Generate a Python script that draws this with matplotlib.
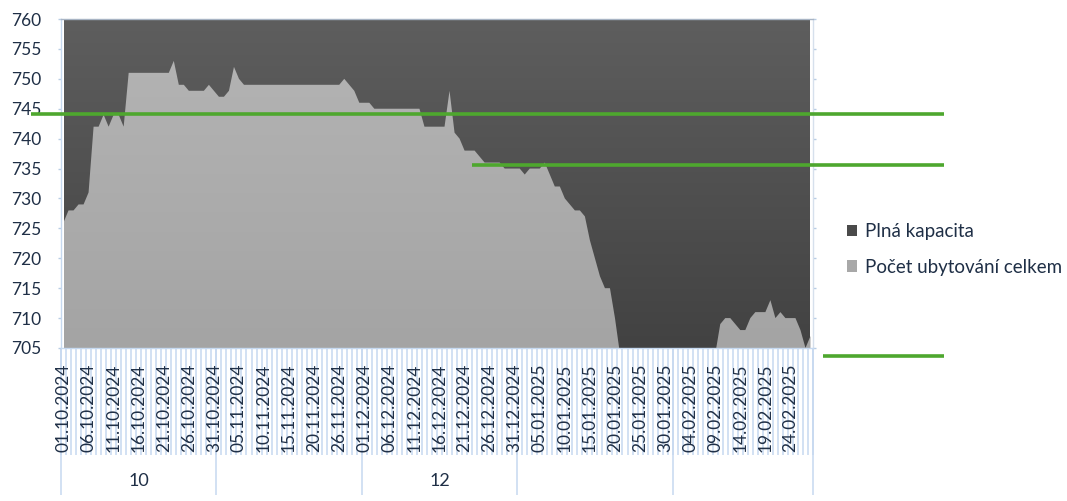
import numpy as np
import pandas as pd
import matplotlib
matplotlib.use('Agg')
import matplotlib.pyplot as plt
from matplotlib.colors import LinearSegmentedColormap
from matplotlib.patches import Patch
import matplotlib.transforms as mtransforms

plt.rcParams['font.family'] = ['Lato', 'DejaVu Sans']

# ---------------- data ----------------
# daily categories 01.10.2024 - 28.02.2025 (source has no row for 25.11.2024)
all_days = pd.date_range('2024-10-01', '2025-02-28', freq='D')
dates = [d for d in all_days if d != pd.Timestamp('2024-11-25')]
date_labels = [d.strftime('%d.%m.%Y') for d in dates]
months = [d.month for d in dates]
shown_month_labels = {10: '10', 12: '12'}

pocet_ubytovani = [
    726, 728, 728, 729, 729, 731, 742, 742, 744, 742,
    744, 744, 742, 751, 751, 751, 751, 751, 751, 751,
    751, 751, 753, 749, 749, 748, 748, 748, 748, 749,
    748, 747, 747, 748, 752, 750, 749, 749, 749, 749,
    749, 749, 749, 749, 749, 749, 749, 749, 749, 749,
    749, 749, 749, 749, 749, 749, 750, 749, 748, 746,
    746, 746, 745, 745, 745, 745, 745, 745, 745, 745,
    745, 745, 742, 742, 742, 742, 742, 748, 741, 740,
    738, 738, 738, 737, 736, 736, 736, 736, 735, 735,
    735, 735, 734, 735, 735, 735, 736, 734, 732, 732,
    730, 729, 728, 728, 727, 723, 720, 717, 715, 715,
    710, 704, 700, 700, 700, 700, 700, 700, 700, 700,
    700, 700, 700, 700, 700, 700, 700, 700, 700, 700,
    704, 709, 710, 710, 709, 708, 708, 710, 711, 711,
    711, 713, 710, 711, 710, 710, 710, 708, 705, 707,
]
plna_kapacita = [760] * len(dates)

series_names = ['Plná kapacita', 'Počet ubytování celkem']
green_levels = [744.2, 735.6, 703.7]
green_x_ranges = [(31, 944), (472, 944), (823, 944)]  # figure pixels

y_min, y_max, y_step = 705, 760, 5

# ---------------- figure ----------------
W, H = 1067, 501
fig = plt.figure(figsize=(W / 100, H / 100), dpi=100)
ax = fig.add_axes([61 / W, 1 - 348 / H, 752 / W, 329 / H])
ax.set_facecolor('white')

x = np.arange(len(dates))
text_color = '#1f2f46'
axis_blue = '#c6d9f0'


def gradient_area(xv, yv, top_col, bot_col, z):
    poly = ax.fill_between(xv, 600, yv, facecolor='none', edgecolor='none', zorder=z)
    path = poly.get_paths()[0]
    cmap = LinearSegmentedColormap.from_list('g', [bot_col, top_col])
    grad = np.linspace(1, 0, 256).reshape(-1, 1)
    im = ax.imshow(grad, aspect='auto', cmap=cmap, origin='upper',
                   extent=(xv[0], xv[-1], y_min, y_max), zorder=z,
                   interpolation='bilinear')
    im.set_clip_path(path, transform=ax.transData)


gradient_area(x, plna_kapacita, '#5e5e5e', '#424242', 1)
gradient_area(x, pocet_ubytovani, '#b5b5b5', '#a4a4a4', 2)

ax.set_xlim(-0.5, len(dates) - 0.5)
ax.set_ylim(y_min, y_max)

# y axis
ax.set_yticks(np.arange(y_min, y_max + 1, y_step))
ax.tick_params(axis='y', which='both', left=True, right=True, labelright=False,
               direction='out', length=2, width=1, color='#b8cce4',
               labelsize=12.5, labelcolor=text_color, pad=12)

# x axis: date labels every 5th category
ax.set_xticks(x[::5])
ax.set_xticklabels(date_labels[::5], rotation=90, fontsize=12.5, color=text_color)
ax.tick_params(axis='x', length=0, pad=11)

for s in ['left', 'bottom']:
    ax.spines[s].set_color(axis_blue)
ax.spines['top'].set_color('#a8b4c4')
ax.spines['right'].set_color('#d6e0ec')
for s in ax.spines.values():
    s.set_linewidth(1)

xtr = ax.get_xaxis_transform()
# category tick stripes
stripe_pos = np.arange(len(dates) + 1) - 0.5
ax.vlines(stripe_pos, -107 / 329, 0, transform=xtr, colors=axis_blue,
          linewidth=1.1, clip_on=False, zorder=0)

# month groups
bounds = [-0.5] + [i - 0.5 for i in range(1, len(months)) if months[i] != months[i - 1]] + [len(months) - 0.5]
ax.vlines(bounds, -147 / 329, 0, transform=xtr, colors=axis_blue,
          linewidth=1.1, clip_on=False, zorder=0)
for a, b in zip(bounds[:-1], bounds[1:]):
    m = months[int(a + 0.5)]
    if m in shown_month_labels:
        ax.text((a + b) / 2, -(481.5 - 348) / 329, shown_month_labels[m],
                transform=xtr, ha='center', va='center', fontsize=13,
                color=text_color)

# green reference lines (shapes over the chart)
gtr = mtransforms.blended_transform_factory(fig.transFigure, ax.transData)
for lvl, (x0, x1) in zip(green_levels, green_x_ranges):
    ax.plot([x0 / W, x1 / W], [lvl, lvl], transform=gtr, color='#4ea72e',
            linewidth=2.6, clip_on=False, zorder=10, solid_capstyle='butt')

# legend
handles = [Patch(facecolor='#4a4a4a', edgecolor='none'),
           Patch(facecolor='#a8a8a8', edgecolor='none')]
fig.legend(handles, series_names, loc='upper left',
           bbox_to_anchor=(847 / W, 1 - 223 / H), frameon=False,
           fontsize=13.5, handlelength=0.55, handleheight=0.55,
           handletextpad=0.4, labelspacing=1.0, labelcolor=text_color,
           borderaxespad=0, borderpad=0)

fig.savefig('out.png', dpi=100)
